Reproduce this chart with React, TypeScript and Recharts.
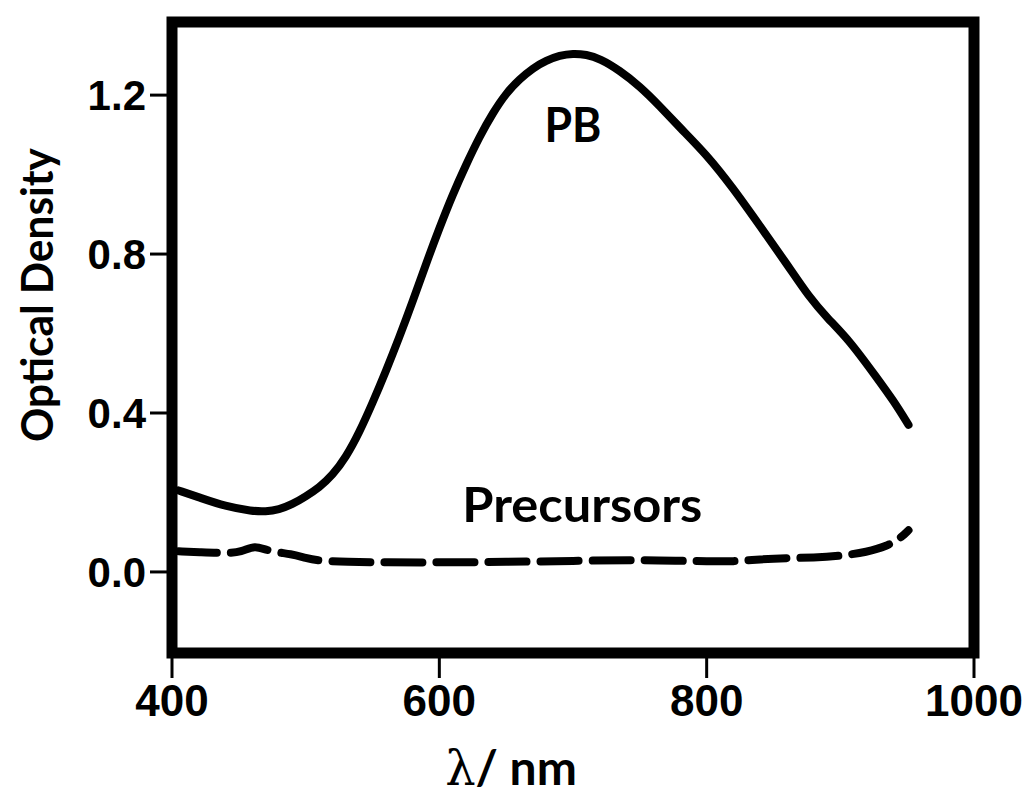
import React from 'react';
import { LineChart, Line, XAxis, YAxis, ReferenceArea, ReferenceDot } from 'recharts';

const pbWavelength = [405, 420, 440, 460, 470, 480, 490, 500, 510, 520, 530, 540, 550, 560, 570, 580, 590, 600, 610, 620, 630, 640, 650, 660, 670, 680, 690, 700, 710, 720, 735, 750, 765, 780, 800, 820, 840, 860, 877, 890, 907, 927, 940, 951];
const pbDensity = [0.205, 0.188, 0.165, 0.153, 0.152, 0.157, 0.17, 0.19, 0.212, 0.243, 0.288, 0.35, 0.425, 0.505, 0.59, 0.68, 0.775, 0.865, 0.95, 1.025, 1.095, 1.155, 1.205, 1.24, 1.268, 1.287, 1.3, 1.305, 1.302, 1.292, 1.262, 1.222, 1.172, 1.118, 1.05, 0.965, 0.87, 0.775, 0.69, 0.64, 0.582, 0.49, 0.43, 0.37];

const precWavelength = [405, 420, 440, 452, 462, 472, 490, 500, 510, 530, 560, 600, 650, 700, 750, 780, 800, 820, 840, 860, 880, 900, 920, 935, 945, 951];
const precDensity = [0.052, 0.05, 0.047, 0.05, 0.068, 0.052, 0.045, 0.035, 0.028, 0.025, 0.024, 0.024, 0.025, 0.028, 0.03, 0.028, 0.027, 0.026, 0.032, 0.035, 0.036, 0.04, 0.05, 0.065, 0.085, 0.105];

const xTicks = [400, 600, 800, 1000];
const yTicks = [0, 0.4, 0.8, 1.2];
const xDomain = [400, 1000];
const yDomain = [-0.204, 1.384];

const pbData = pbWavelength.map((w, i) => ({ w, pb: pbDensity[i] }));
const precData = precWavelength.map((w, i) => ({ w, prec: precDensity[i] }));

const labelFont = 'Lato, "Open Sans", sans-serif';
const tickFont = '"Liberation Sans", Arial, sans-serif';

const textShape = (txt: string, len: number) => (props: any) => (
  <text x={props.cx} y={props.cy} textAnchor="middle" fontFamily={labelFont} fontWeight="bold" fontSize={47} fill="#000" textLength={len} lengthAdjust="spacingAndGlyphs">
    {txt}
  </text>
);

export default function App() {
  return (
    <div style={{ position: 'absolute', left: 0, top: 0, background: '#fff' }}>
      <LineChart width={1024} height={810} margin={{ top: 22, right: 50, bottom: 0, left: 0 }}>
        <XAxis
          dataKey="w"
          type="number"
          domain={xDomain}
          ticks={xTicks}
          allowDataOverflow
          axisLine={false}
          tickSize={25}
          tickMargin={7}
          tickLine={{ stroke: '#000', strokeWidth: 3 }}
          tick={{ fill: '#000', fontSize: 44, fontWeight: 'bold', fontFamily: tickFont }}
          height={157}
          label={{
            content: (p: any) => (
              <text x={511} y={785} textAnchor="middle" fontFamily={labelFont} fontWeight="bold" fontSize={48} fill="#000">
                <tspan fontFamily='"DejaVu Serif", serif' fontWeight="normal">λ</tspan>/ nm
              </text>
            ),
          }}
        />
        <YAxis
          type="number"
          domain={yDomain}
          ticks={yTicks}
          allowDataOverflow
          axisLine={false}
          width={172}
          tickSize={22}
          tickMargin={4}
          tickFormatter={(v: number) => v.toFixed(1)}
          tickLine={{ stroke: '#000', strokeWidth: 3 }}
          tick={{ fill: '#000', fontSize: 42, fontWeight: 'bold', fontFamily: tickFont }}
          label={{
            content: (p: any) => (
              <text transform="translate(53,295) rotate(-90)" textAnchor="middle" fontFamily={labelFont} fontWeight="bold" fontSize={43} fill="#000" textLength={294} lengthAdjust="spacingAndGlyphs">
                Optical Density
              </text>
            ),
          }}
        />
        <Line data={pbData} dataKey="pb" type="basis" stroke="#000" strokeWidth={8} dot={false} isAnimationActive={false} strokeLinecap="round" />
        <Line data={precData} dataKey="prec" type="basis" stroke="#000" strokeWidth={8} strokeDasharray="38 14" dot={false} isAnimationActive={false} strokeLinecap="round" />
        <ReferenceArea x1={400} x2={1000} y1={yDomain[0]} y2={yDomain[1]} fill="none" stroke="#000" strokeWidth={11} ifOverflow="visible" />
        <ReferenceDot x={700} y={1.082} r={0} ifOverflow="visible" shape={textShape('PB', 57)} />
        <ReferenceDot x={707} y={0.126} r={0} ifOverflow="visible" shape={textShape('Precursors', 240)} />
      </LineChart>
    </div>
  );
}
